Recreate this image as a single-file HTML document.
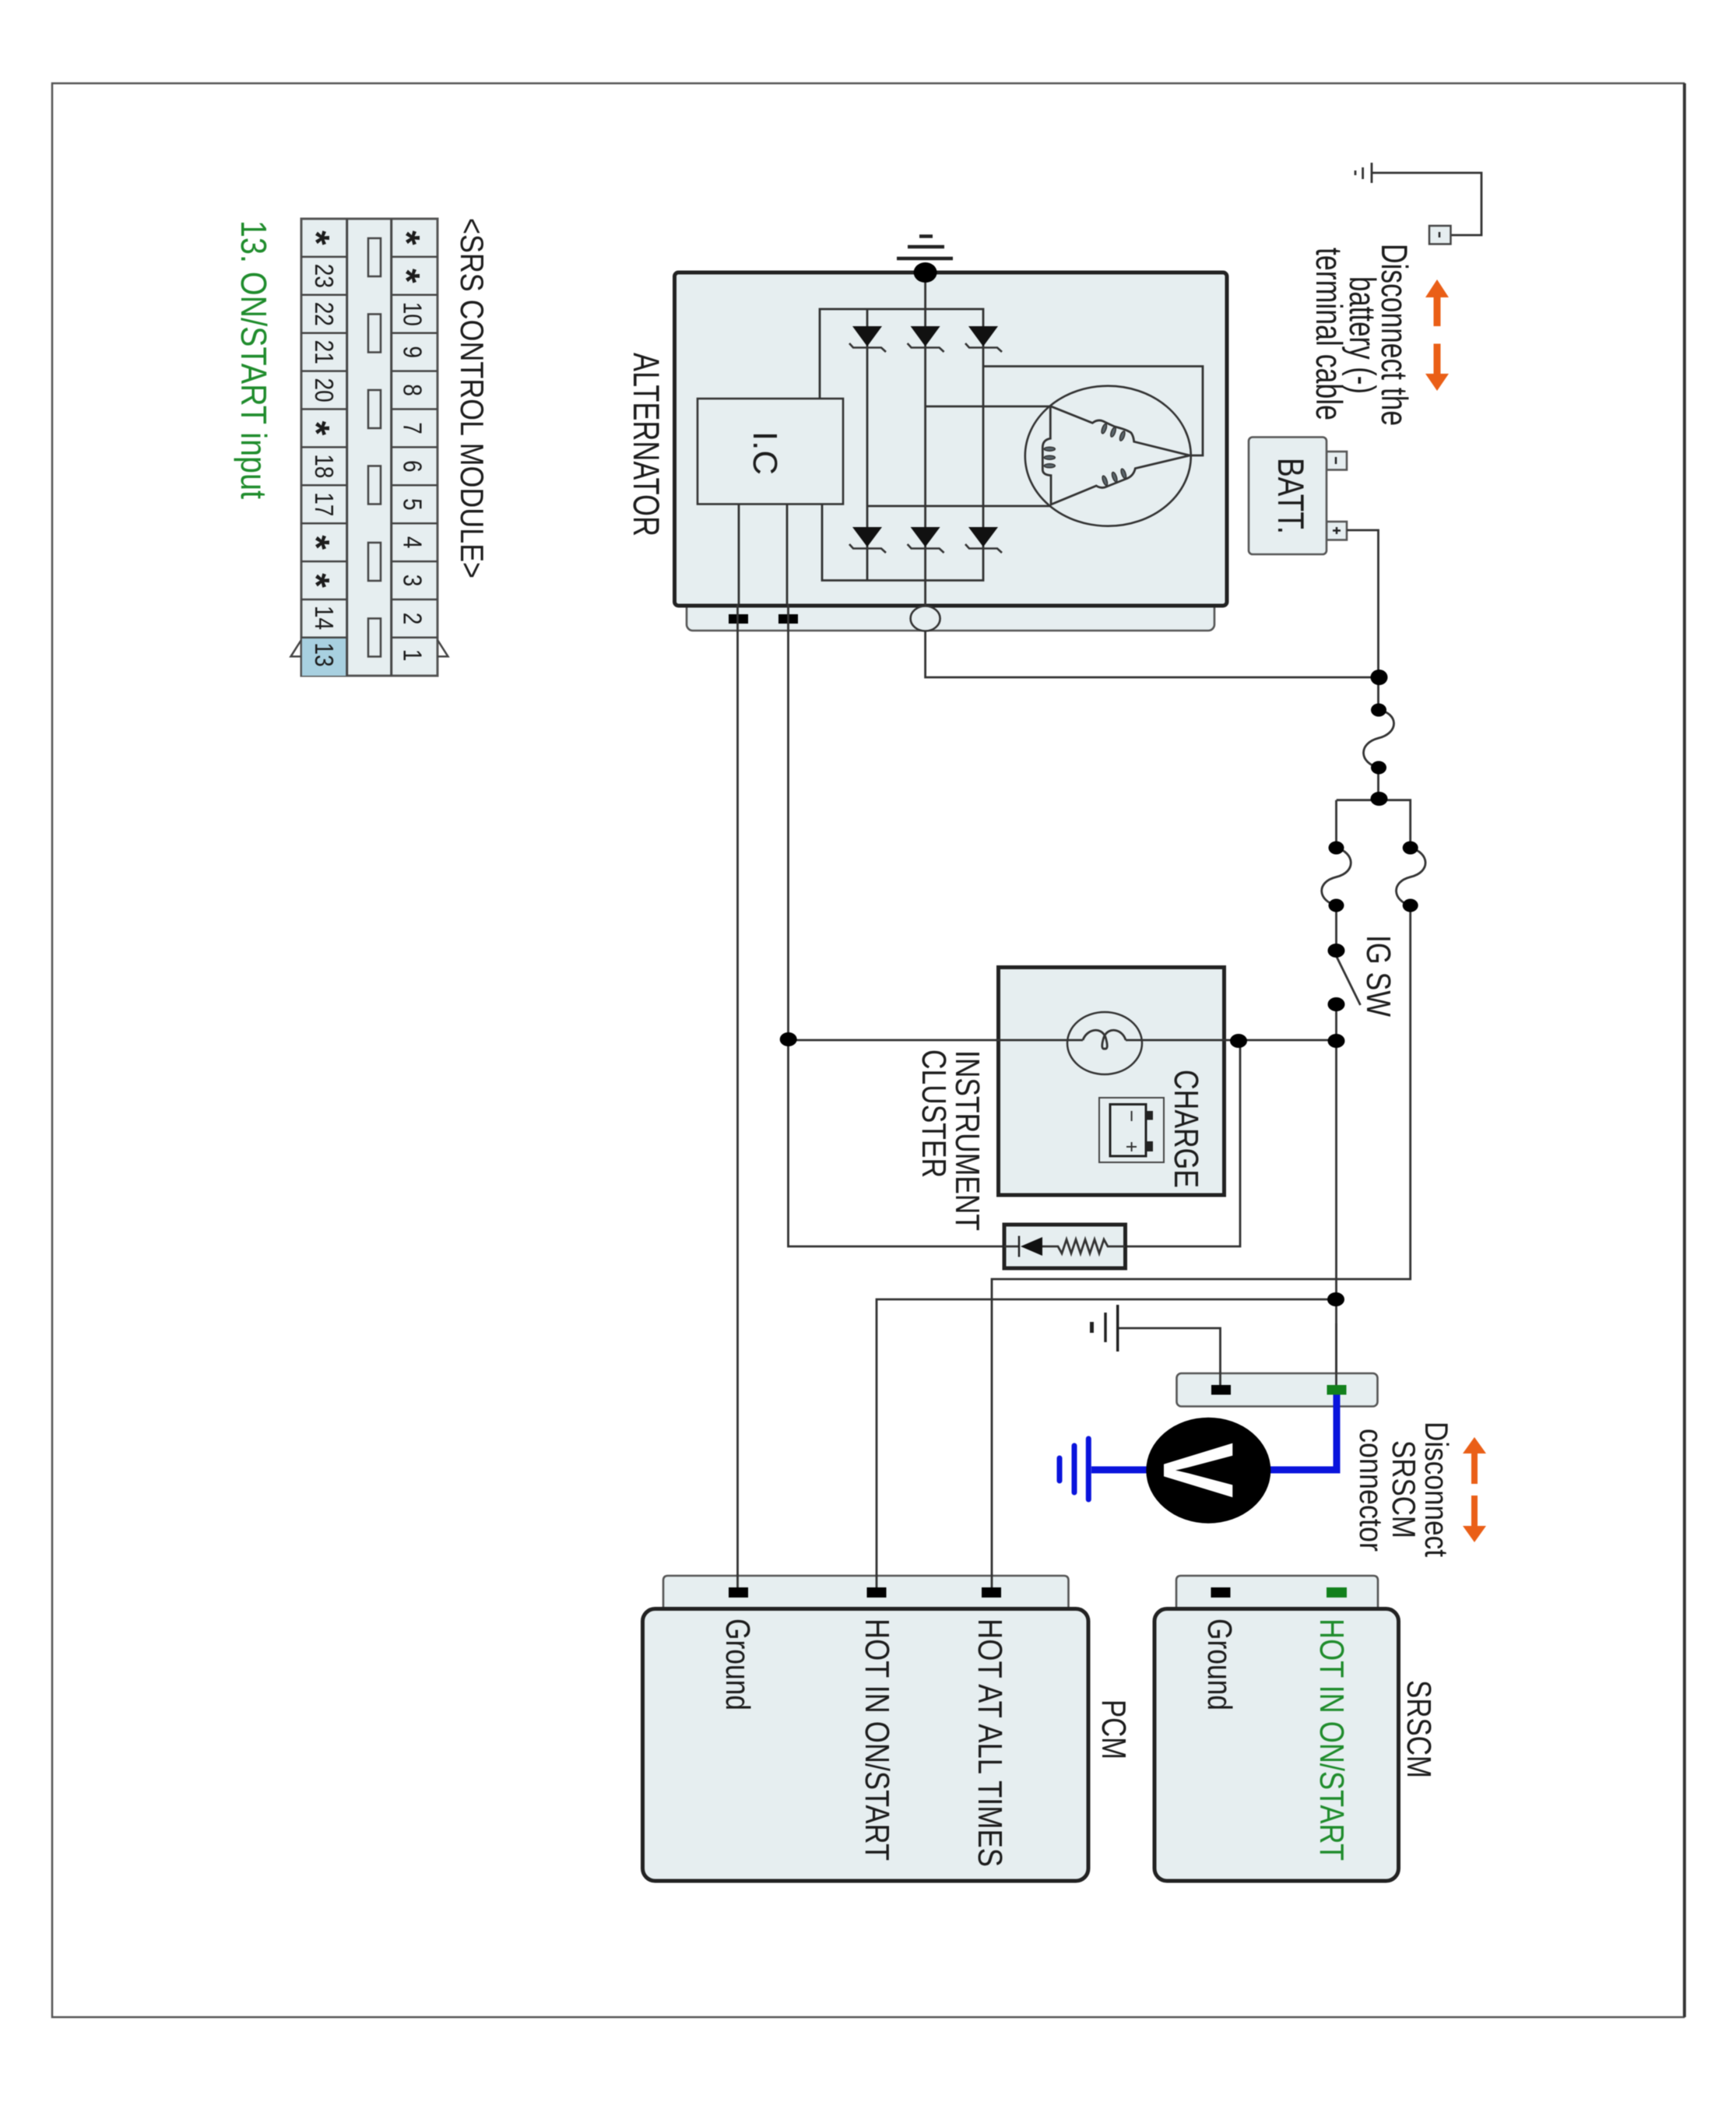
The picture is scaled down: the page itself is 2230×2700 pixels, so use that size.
<!DOCTYPE html>
<html><head><meta charset="utf-8"><style>
html,body{margin:0;padding:0;background:#fff}
svg{display:block;filter:blur(.5px)}
text{font-family:"Liberation Sans",Arial,sans-serif;fill:#1c1c1c}
.w{fill:none;stroke:#333;stroke-width:2.8}
.b{fill:#e6eef0;stroke:#222;stroke-width:5}
.s{fill:#e6eef0;stroke:#555;stroke-width:2.6}
.n{font-size:33px;text-anchor:middle}
.a{font-size:48px;font-weight:bold;text-anchor:middle}
</style></head><body>
<svg xmlns="http://www.w3.org/2000/svg" width="2230" height="2700" viewBox="0 0 2230 2700">
<rect width="2230" height="2700" fill="#fff"/>
<rect x="67" y="107" width="2096" height="2484" fill="none" stroke="#555" stroke-width="2.5"/>
<path d="M2164 107V2591" stroke="#333" stroke-width="3.500"/>

<!-- SRS module -->
<rect x="387" y="281" width="175" height="587" fill="#e6eef0" stroke="#555" stroke-width="3"/>
<rect x="388" y="819" width="57" height="49" fill="#a8d0e0"/>
<path d="M445.700 281V868M502.700 281V868" stroke="#444" stroke-width="3" fill="none"/>
<path d="M387 329.900H445.700M387 378.800H445.700M387 427.700H445.700M387 476.600H445.700M387 525.500H445.700M387 574.400H445.700M387 623.300H445.700M387 672.200H445.700M387 721.100H445.700M387 770H445.700M387 818.900H445.700M502.700 329.900H562M502.700 378.800H562M502.700 427.700H562M502.700 476.600H562M502.700 525.500H562M502.700 574.400H562M502.700 623.300H562M502.700 672.200H562M502.700 721.100H562M502.700 770H562M502.700 818.900H562" stroke="#444" stroke-width="2.5" fill="none"/>
<g fill="#e6eef0" stroke="#444" stroke-width="2.5">
<rect x="473" y="306" width="16" height="49"/><rect x="473" y="403.500" width="16" height="49"/><rect x="473" y="501" width="16" height="49"/><rect x="473" y="598.500" width="16" height="49"/><rect x="473" y="697" width="16" height="49"/><rect x="473" y="794.400" width="16" height="49"/>
</g>
<path d="M387 822L373.500 843.300H387M562 822L575.500 843.300H562" fill="none" stroke="#444" stroke-width="2.5"/>
<g>
<text class="a" transform="translate(390,305.500) rotate(90)">*</text>
<text class="n" transform="translate(405,354.400) rotate(90) scale(.85,1)">23</text>
<text class="n" transform="translate(405,403.300) rotate(90) scale(.85,1)">22</text>
<text class="n" transform="translate(405,452.200) rotate(90) scale(.85,1)">21</text>
<text class="n" transform="translate(405,501.100) rotate(90) scale(.85,1)">20</text>
<text class="a" transform="translate(390,550) rotate(90)">*</text>
<text class="n" transform="translate(405,598.900) rotate(90) scale(.85,1)">18</text>
<text class="n" transform="translate(405,647.800) rotate(90) scale(.85,1)">17</text>
<text class="a" transform="translate(390,696.700) rotate(90)">*</text>
<text class="a" transform="translate(390,745.600) rotate(90)">*</text>
<text class="n" transform="translate(405,793.500) rotate(90) scale(.85,1)">14</text>
<text class="n" transform="translate(405,841) rotate(90) scale(.85,1)">13</text>
<text class="a" transform="translate(506,305.500) rotate(90)">*</text>
<text class="a" transform="translate(506,354.400) rotate(90)">*</text>
<text class="n" transform="translate(518.500,403.300) rotate(90) scale(.85,1)">10</text>
<text class="n" transform="translate(518.500,452.200) rotate(90) scale(.85,1)">9</text>
<text class="n" transform="translate(518.500,501.100) rotate(90) scale(.85,1)">8</text>
<text class="n" transform="translate(518.500,550) rotate(90) scale(.85,1)">7</text>
<text class="n" transform="translate(518.500,598.900) rotate(90) scale(.85,1)">6</text>
<text class="n" transform="translate(518.500,647.800) rotate(90) scale(.85,1)">5</text>
<text class="n" transform="translate(518.500,696.700) rotate(90) scale(.85,1)">4</text>
<text class="n" transform="translate(518.500,745.600) rotate(90) scale(.85,1)">3</text>
<text class="n" transform="translate(518.500,794.500) rotate(90) scale(.85,1)">2</text>
<text class="n" transform="translate(518.500,841.500) rotate(90) scale(.85,1)">1</text>
</g>
<text transform="translate(592,280) rotate(90)" font-size="42" textLength="463" lengthAdjust="spacingAndGlyphs">&lt;SRS CONTROL MODULE&gt;</text>
<text transform="translate(310,283) rotate(90)" font-size="46" textLength="358" lengthAdjust="spacingAndGlyphs" style="fill:#1f8c2c">13. ON/START input</text>

<!-- Alternator -->
<rect class="s" x="882" y="750" width="678" height="60" rx="8"/>
<rect class="b" x="866.500" y="350" width="709.500" height="428" rx="5"/>
<rect x="896" y="512" width="187" height="135.500" fill="#e6eef0" stroke="#333" stroke-width="2.6"/>
<text transform="translate(968,582) rotate(90)" font-size="44" text-anchor="middle" textLength="56" lengthAdjust="spacingAndGlyphs">I.C</text>
<text transform="translate(814,453) rotate(90)" font-size="47" textLength="236" lengthAdjust="spacingAndGlyphs">ALTERNATOR</text>
<path class="w" d="M1053 512V397H1263V745.500H1056V648M1114 397V745.500M1188.600 350V778M1188.600 522H1349.300M1114 650H1349.300M1263 470.500H1545V585H1528.300"/>
<ellipse cx="1423.300" cy="585.700" rx="106.500" ry="90" fill="none" stroke="#333" stroke-width="2.6"/>
<!-- stator windings -->
<path class="w" d="M1349.300 521.700V563.300Q1339.300 565 1339.300 575V603.300Q1339.300 610 1350 610.700V648L1408.300 624Q1415 628.300 1421.700 625L1446.700 615Q1456 611.700 1458.300 601.700L1528.300 585L1456.700 567.300Q1456 560 1453 556Q1448 552 1432 548Q1425 545 1417 541Q1410 538 1403.300 543.300L1349.300 521.700"/>
<g fill="#59646a" stroke="#333" stroke-width="1.500">
<ellipse cx="1348.300" cy="576.700" rx="7" ry="2.500"/>
<ellipse cx="1348.300" cy="587.700" rx="7" ry="2.500"/>
<ellipse cx="1348.300" cy="598.300" rx="7" ry="2.500"/>
<ellipse cx="1418.300" cy="550.700" rx="2.500" ry="6.500" transform="rotate(20 1418.300 550.700)"/>
<ellipse cx="1430" cy="555" rx="2.500" ry="6.500" transform="rotate(20 1430 555)"/>
<ellipse cx="1441.700" cy="560" rx="2.500" ry="6.500" transform="rotate(20 1441.700 560)"/>
<ellipse cx="1419.300" cy="617.300" rx="2.500" ry="6.500" transform="rotate(-20 1419.300 617.300)"/>
<ellipse cx="1431.700" cy="612.700" rx="2.500" ry="6.500" transform="rotate(-20 1431.700 612.700)"/>
<ellipse cx="1443.300" cy="608.300" rx="2.500" ry="6.500" transform="rotate(-20 1443.300 608.300)"/>
</g>
<g fill="#111">
<path d="M1095 419H1133L1114 445ZM1169.600 419H1207.600L1188.600 445ZM1244 419H1282L1263 445ZM1095 677H1133L1114 702.500ZM1169.600 677H1207.600L1188.600 702.500ZM1244 677H1282L1263 702.500Z"/>
</g>
<path d="M1091 441L1096 446.500H1132L1138 452M1165.600 441L1170.600 446.500H1206.600L1212.600 452M1240 441L1245 446.500H1281L1287 452M1091 699L1096 704.500H1132L1138 710M1165.600 699L1170.600 704.500H1206.600L1212.600 710M1240 699L1245 704.500H1281L1287 710" fill="none" stroke="#333" stroke-width="2.6"/>
<path class="w" d="M949 647.500V776M1011 647.500V776"/>
<path d="M1152 332H1224M1166 317H1213M1181 303.500H1198" stroke="#222" stroke-width="4.500" fill="none"/>
<ellipse cx="1188.600" cy="350" rx="15" ry="13" fill="#000"/>
<ellipse cx="1188.600" cy="794.500" rx="19" ry="16" fill="#e6eef0" stroke="#333" stroke-width="2.6"/>
<rect x="936" y="789" width="25" height="12" fill="#000"/><rect x="1000" y="789" width="25" height="12" fill="#000"/>

<!-- Disconnect battery -->
<path class="w" d="M1762 222H1903V302H1863.500"/>
<path d="M1762 209V235M1750.600 215V230M1741 219V225" stroke="#333" stroke-width="2.800" fill="none"/>
<rect x="1836" y="290" width="27.500" height="23.500" fill="#e6eef0" stroke="#444" stroke-width="2.500"/>
<path d="M1849 298V305" stroke="#222" stroke-width="2.500"/>
<text transform="translate(1775,313) rotate(90)" font-size="47" textLength="234" lengthAdjust="spacingAndGlyphs">Disconnect the</text>
<text transform="translate(1734,355) rotate(90)" font-size="47" textLength="151" lengthAdjust="spacingAndGlyphs">battery (-)</text>
<text transform="translate(1691,318) rotate(90)" font-size="47" textLength="222" lengthAdjust="spacingAndGlyphs">terminal cable</text>
<g fill="#ea5f17">
<path d="M1846 359L1861 382H1850.500V419H1841.500V382H1831Z"/>
<path d="M1846 502L1861 480H1850.500V441.500H1841.500V480H1831Z"/>
<path d="M1894 1846L1909 1867H1898V1906H1890V1867H1879Z"/>
<path d="M1894 1981L1909 1960H1898V1921H1890V1960H1879Z"/>
</g>

<!-- Battery -->
<rect class="s" x="1704" y="580" width="26" height="23.500"/>
<rect class="s" x="1704" y="670" width="26" height="23.500"/>
<rect class="s" x="1604" y="561.500" width="100" height="150.500" rx="5"/>
<path d="M1716 587V596M1712 681.500H1722M1717 677V686" stroke="#222" stroke-width="2.500" fill="none"/>
<text transform="translate(1642,588) rotate(90)" font-size="47" textLength="98" lengthAdjust="spacingAndGlyphs">BATT.</text>

<!-- Main wires -->
<path class="w" d="M1730 681H1770.500V912M1188.600 810V870H1770.500M1770.500 986V1027.700M1716.700 1027.700H1811.700V1089M1716.500 1027.700V1089M1716.500 1163V1221M1716.500 1290V1764M1811.700 1163V1643H1274V2024M1716.500 1669H1126V2024M1012.500 776V1601H1290M1445 1601H1593V1337M947.500 776V2024"/>
<path class="w" d="M1771 912C1796 916 1798 941 1771 948C1744 955 1746 980 1771 986M1716.500 1089C1740 1095 1743 1120 1716.500 1126.500C1690 1133 1693 1157 1716.500 1163M1811.700 1089C1836 1095 1839 1120 1811.700 1126.500C1786 1133 1789 1157 1811.700 1163"/>
<path class="w" d="M1716.500 1228L1747.500 1291"/>
<path class="w" d="M1436 1706H1567.500V1764"/>
<path d="M1435.700 1676V1736M1420 1686V1724" stroke="#222" stroke-width="3.500" fill="none"/>
<path d="M1402.500 1698V1712" stroke="#222" stroke-width="5" fill="none"/>
<text transform="translate(1756,1201) rotate(90)" font-size="44" textLength="105" lengthAdjust="spacingAndGlyphs">IG SW</text>

<!-- Cluster -->
<rect class="b" x="1282.500" y="1242.500" width="290" height="292.500" stroke-width="4.500"/>
<path class="w" d="M1012.500 1336H1391M1446 1336H1716.500"/>
<ellipse cx="1419" cy="1340" rx="48" ry="40" fill="none" stroke="#333" stroke-width="2.500"/>
<path class="w" d="M1391 1336C1396 1322 1414 1318 1420 1332C1424 1345 1422 1348 1419 1347C1416 1348 1414 1345 1418 1332C1424 1318 1442 1322 1446 1336"/>
<rect x="1412" y="1410" width="83" height="83" fill="none" stroke="#444" stroke-width="2"/>
<rect x="1426" y="1418.500" width="46" height="66.500" fill="none" stroke="#222" stroke-width="3"/>
<rect x="1472" y="1427" width="9" height="11.500" fill="#222"/><rect x="1472" y="1466" width="9" height="13" fill="#222"/>
<path d="M1453.600 1427V1440M1453.600 1467V1479M1447 1473H1460" stroke="#333" stroke-width="2" fill="none"/>
<text transform="translate(1509,1374) rotate(90)" font-size="44" textLength="152" lengthAdjust="spacingAndGlyphs">CHARGE</text>
<text transform="translate(1228,1349) rotate(90)" font-size="44" textLength="232" lengthAdjust="spacingAndGlyphs">INSTRUMENT</text>
<text transform="translate(1185,1348) rotate(90)" font-size="44" textLength="165" lengthAdjust="spacingAndGlyphs">CLUSTER</text>

<!-- Resistor/diode -->
<rect class="b" x="1290" y="1573" width="155.500" height="56" stroke-width="4"/>
<path class="w" d="M1290 1601H1309M1339 1601H1359L1364 1610L1370 1592L1376 1610L1382 1592L1388 1610L1394 1592L1400 1610L1406 1592L1412 1610L1418 1592L1423 1601H1445"/>
<path d="M1309 1587.500V1614.500" stroke="#222" stroke-width="2.500"/>
<path d="M1311 1601L1339 1589V1613Z" fill="#111"/>

<!-- SRSCM connector and voltmeter -->
<rect class="s" x="1511.500" y="1764" width="258" height="42.500" rx="6"/>
<path d="M1717 1790V1888H1402" fill="none" stroke="#0a14dc" stroke-width="9"/>
<path d="M1398.300 1848V1926M1380 1857V1917M1361 1873V1902" fill="none" stroke="#0a14dc" stroke-width="7" stroke-linecap="round"/>
<path class="w" d="M1567.500 1762V1781M1716.500 1700V1780"/>
<rect x="1556" y="1779" width="25" height="12.500" fill="#000"/>
<rect x="1704.500" y="1779" width="25" height="12.500" fill="#12801c"/>
<ellipse cx="1552.300" cy="1888.700" rx="80" ry="68" fill="#000"/>
<text transform="translate(1495,1853) rotate(90)" font-size="128" font-weight="bold" textLength="71" lengthAdjust="spacingAndGlyphs" style="fill:#fff">V</text>
<text transform="translate(1831,1826) rotate(90)" font-size="42" textLength="174" lengthAdjust="spacingAndGlyphs">Disconnect</text>
<text transform="translate(1789,1850) rotate(90)" font-size="42" textLength="126" lengthAdjust="spacingAndGlyphs">SRSCM</text>
<text transform="translate(1747,1835) rotate(90)" font-size="42" textLength="158" lengthAdjust="spacingAndGlyphs">connector</text>

<!-- PCM -->
<path class="s" d="M852 2070V2030q0 -6 6 -6H1366.500q6 0 6 6V2070Z"/>
<rect class="b" x="825.500" y="2066.500" width="572.500" height="349.500" rx="16"/>
<path class="w" d="M947.500 2022V2040M1126 2022V2040M1274 2022V2040"/>
<rect x="936" y="2039" width="25" height="13" fill="#000"/><rect x="1113.500" y="2039" width="25" height="13" fill="#000"/><rect x="1261" y="2039" width="25" height="13" fill="#000"/>
<text transform="translate(933,2079) rotate(90)" font-size="44" textLength="118" lengthAdjust="spacingAndGlyphs">Ground</text>
<text transform="translate(1112,2079) rotate(90)" font-size="44" textLength="311" lengthAdjust="spacingAndGlyphs">HOT IN ON/START</text>
<text transform="translate(1257,2079) rotate(90)" font-size="44" textLength="319" lengthAdjust="spacingAndGlyphs">HOT AT ALL TIMES</text>
<text transform="translate(1416,2183) rotate(90)" font-size="44" textLength="77" lengthAdjust="spacingAndGlyphs">PCM</text>

<!-- SRSCM -->
<path class="s" d="M1511 2070V2030q0 -6 6 -6H1764q6 0 6 6V2070Z"/>
<rect class="b" x="1483" y="2066.500" width="313.500" height="349.500" rx="16"/>
<rect x="1555.500" y="2039" width="25" height="13" fill="#000"/><rect x="1704" y="2039" width="26" height="13" fill="#12801c"/>
<text transform="translate(1552,2079) rotate(90)" font-size="44" textLength="118" lengthAdjust="spacingAndGlyphs">Ground</text>
<text transform="translate(1696,2079) rotate(90)" font-size="44" textLength="311" lengthAdjust="spacingAndGlyphs" style="fill:#1f8c2c">HOT IN ON/START</text>
<text transform="translate(1808,2158) rotate(90)" font-size="44" textLength="126" lengthAdjust="spacingAndGlyphs">SRSCM</text>

<!-- Dots -->
<g fill="#000">
<ellipse cx="1771.500" cy="870" rx="11" ry="10"/>
<ellipse cx="1771" cy="912" rx="10" ry="8.500"/>
<ellipse cx="1771" cy="986" rx="10" ry="8.500"/>
<ellipse cx="1771.500" cy="1026" rx="11" ry="9"/>
<ellipse cx="1716.500" cy="1089" rx="10" ry="8.500"/>
<ellipse cx="1716.500" cy="1163" rx="10" ry="8.500"/>
<ellipse cx="1811.700" cy="1089" rx="10" ry="8.500"/>
<ellipse cx="1811.700" cy="1163" rx="10" ry="8.500"/>
<ellipse cx="1716.500" cy="1221" rx="11" ry="9"/>
<ellipse cx="1716.500" cy="1290" rx="11" ry="9"/>
<ellipse cx="1716.500" cy="1337" rx="11" ry="9"/>
<ellipse cx="1591" cy="1337" rx="11" ry="9"/>
<ellipse cx="1012.700" cy="1335" rx="11" ry="9"/>
<ellipse cx="1716" cy="1669" rx="11" ry="9"/>
</g>
</svg>
</body></html>
